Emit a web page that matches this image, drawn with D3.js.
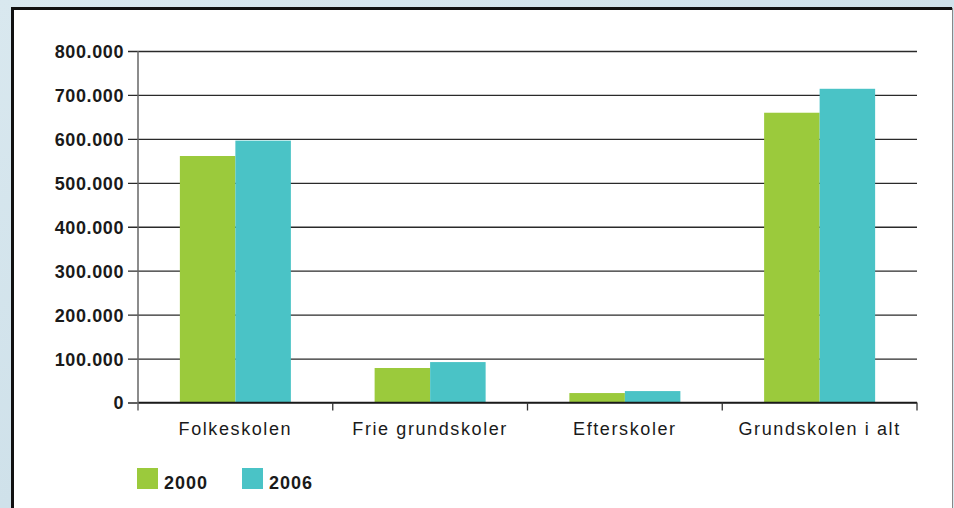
<!DOCTYPE html>
<html lang="da">
<head>
<meta charset="UTF-8">
<title>Elever i grundskolen</title>
<script src="https://d3js.org/d3.v7.min.js"></script>
<style>
  body { margin: 0; background: #d6e6ee; }
  svg text { font-family: "Liberation Sans", Arial, Helvetica, sans-serif; fill: #1a1a1a; }
  .y-axis text { font-size: 18px; font-weight: bold; letter-spacing: 0.6px; }
  .x-axis text { font-size: 18px; letter-spacing: 1.6px; }
  .legend text { font-size: 18px; font-weight: bold; letter-spacing: 1px; }
</style>
</head>
<body>
<script>
const categories = ["Folkeskolen", "Frie grundskoler", "Efterskoler", "Grundskolen i alt"]
const years = ["2000", "2006"]
const values2000 = [561000, 78500, 21500, 659500]
const values2006 = [596000, 92000, 26000, 714000]
const yTicks = [0, 100000, 200000, 300000, 400000, 500000, 600000, 700000, 800000]
const colors = ["#9bca3c", "#4ac3c6"]

const W = 954, H = 508
const margin = { top: 51, right: 37, bottom: 105.5, left: 138 }
const width = W - margin.left - margin.right
const height = H - margin.top - margin.bottom

const svg = d3.select("body").append("svg")
    .attr("width", W)
    .attr("height", H)
    .style("display", "block")

// light blue backdrop
const grad = svg.append("defs").append("linearGradient")
    .attr("id", "bg").attr("x1", 0).attr("y1", 0).attr("x2", 1).attr("y2", 1)
grad.append("stop").attr("offset", 0).attr("stop-color", "#d9e8ef")
grad.append("stop").attr("offset", 0.5).attr("stop-color", "#cfe1ea")
grad.append("stop").attr("offset", 1).attr("stop-color", "#dae9f0")
svg.append("rect").attr("width", W).attr("height", H).attr("fill", "url(#bg)")

// white panel
svg.append("rect")
    .attr("x", 12).attr("y", 8).attr("width", 940).attr("height", 520)
    .attr("fill", "#fff")
svg.append("path")
    .attr("d", "M12.5,520 V8.5 H952")
    .attr("fill", "none").attr("stroke", "#111").attr("stroke-width", 3)
svg.append("line")
    .attr("x1", 952.5).attr("x2", 952.5).attr("y1", 8).attr("y2", H)
    .attr("stroke", "#888").attr("stroke-width", 1)

const g = svg.append("g")
    .attr("transform", "translate(" + margin.left + "," + margin.top + ")")

const x = d3.scaleBand().domain(categories).range([0, width])
const bw = x.bandwidth()
const xSub = d3.scaleBand().domain(years).range([bw * 0.215, bw * 0.785])
const y = d3.scaleLinear().domain([0, 800000]).range([height, 0])

// gridlines + y labels
const yAxis = d3.axisLeft(y)
    .tickValues(yTicks)
    .tickSize(-(width + 10))
    .tickPadding(4)
    .tickFormat(d => d3.format(",")(d).replace(/,/g, "."))
g.append("g")
    .attr("class", "y-axis")
    .attr("transform", "translate(-10,0)")
    .call(yAxis)
    .call(a => a.select(".domain").remove())
    .call(a => a.selectAll(".tick line").attr("stroke", "#2a2a2a").attr("stroke-width", 1.3))
    .call(a => a.selectAll(".tick text").attr("dy", "0.36em"))

// bars
const rows = categories.map((c, i) => ({ cat: c, vals: [values2000[i], values2006[i]] }))
const groups = g.selectAll(".grp").data(rows).enter().append("g")
    .attr("transform", d => "translate(" + x(d.cat) + ",0)")
groups.selectAll("rect").data(d => d.vals.map((v, j) => ({ year: years[j], v: v, j: j })))
    .enter().append("rect")
    .attr("x", d => xSub(d.year))
    .attr("width", xSub.bandwidth())
    .attr("y", d => y(d.v))
    .attr("height", d => height - y(d.v))
    .attr("fill", d => colors[d.j])

// baseline over the bars
g.append("line")
    .attr("x1", 0).attr("x2", width).attr("y1", height).attr("y2", height)
    .attr("stroke", "#1a1a1a").attr("stroke-width", 1.5)

// y axis line
g.append("line")
    .attr("x1", 0).attr("x2", 0).attr("y1", 0).attr("y2", height + 8)
    .attr("stroke", "#666").attr("stroke-width", 1.5)

// category boundary ticks
const bounds = categories.map(c => x(c)).concat([width])
g.selectAll(".bt").data(bounds.slice(1)).enter().append("line")
    .attr("x1", d => d).attr("x2", d => d)
    .attr("y1", height).attr("y2", height + 8)
    .attr("stroke", "#333").attr("stroke-width", 1.3)

// category labels
g.append("g")
    .attr("class", "x-axis")
    .attr("transform", "translate(0," + height + ")")
    .call(d3.axisBottom(x).tickSize(0).tickPadding(20))
    .call(a => a.select(".domain").remove())

// legend
const legend = svg.append("g").attr("class", "legend")
const lx = d3.scalePoint().domain(years).range([137, 242])
const item = legend.selectAll("g").data(years).enter().append("g")
    .attr("transform", d => "translate(" + lx(d) + ",468)")
item.append("rect")
    .attr("width", 21).attr("height", 21)
    .attr("fill", (d, i) => colors[i])
item.append("text")
    .attr("x", 27).attr("y", 21)
    .text(d => d)
</script>
</body>
</html>
